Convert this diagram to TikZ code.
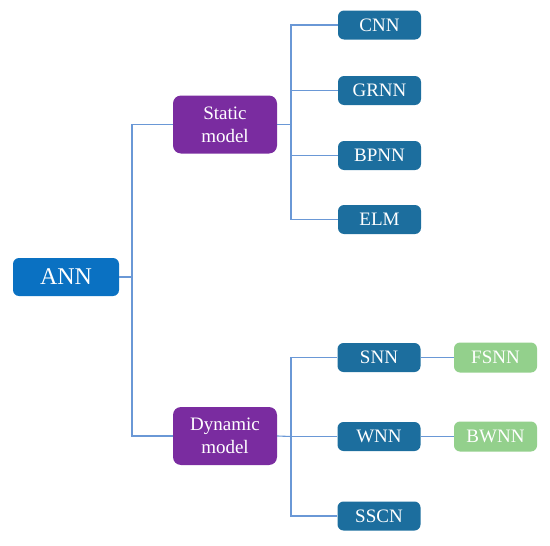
\documentclass[tikz,border=0pt]{standalone}
\usepackage{fontspec}
\setmainfont{Liberation Serif}
\definecolor{annblue}{HTML}{0A71C2}
\definecolor{purp}{HTML}{7A2CA0}
\definecolor{dblue}{HTML}{1C6E9E}
\definecolor{lgreen}{HTML}{93D08C}
\definecolor{linecol}{HTML}{6A98D6}
\begin{document}
\begin{tikzpicture}[x=1pt,y=-1pt,
  box/.style={rounded corners=6pt, text=white, inner sep=0pt, align=center},
  rootbox/.style={box, fill=annblue, minimum width=106pt, minimum height=38pt, font=\fontsize{24}{28}\selectfont},
  midbox/.style={box, fill=purp, minimum width=104pt, minimum height=58pt, rounded corners=8pt, font=\fontsize{19}{23}\selectfont},
  leafbox/.style={box, fill=dblue, minimum width=83pt, minimum height=29pt, font=\fontsize{19}{22}\selectfont},
  extbox/.style={box, fill=lgreen, minimum width=83pt, minimum height=30pt, font=\fontsize{19}{22}\selectfont},
  conn/.style={draw=linecol, line width=1.1pt}]
\useasboundingbox (0,0) rectangle (550,546);
\node[rootbox] (ann) at (66,277) {ANN};
\node[midbox] (static) at (225,124.5) {Static\\model};
\node[midbox] (dynamic) at (225,436) {Dynamic\\model};
\node[leafbox] (cnn) at (379.5,25) {CNN};
\node[leafbox] (grnn) at (379.5,90.5) {GRNN};
\node[leafbox] (bpnn) at (379.5,155.5) {BPNN};
\node[leafbox] (elm) at (379.5,219.5) {ELM};
\node[leafbox] (snn) at (379,357.5) {SNN};
\node[leafbox] (wnn) at (379,436.5) {WNN};
\node[leafbox] (sscn) at (379,516) {SSCN};
\node[extbox] (fsnn) at (495.5,357.5) {FSNN};
\node[extbox] (bwnn) at (495.5,436.5) {BWNN};
\coordinate (j1) at (132,277);
\coordinate (j2) at (291,124.5);
\coordinate (j3) at (291,436.5);
\draw[conn] (ann.east) -- (j1);
\draw[conn] (static.west) -| (j1);
\draw[conn] (dynamic.west) -| (j1);
\draw[conn] (static.east) -- (j2);
\draw[conn] (cnn.west) -| (j2);
\draw[conn] (grnn.west) -| (j2);
\draw[conn] (bpnn.west) -| (j2);
\draw[conn] (elm.west) -| (j2);
\draw[conn] (dynamic.east) -- (j3);
\draw[conn] (snn.west) -| (j3);
\draw[conn] (wnn.west) -- (j3);
\draw[conn] (sscn.west) -| (j3);
\draw[conn] (snn.east) -- (fsnn.west);
\draw[conn] (wnn.east) -- (bwnn.west);
\end{tikzpicture}
\end{document}
